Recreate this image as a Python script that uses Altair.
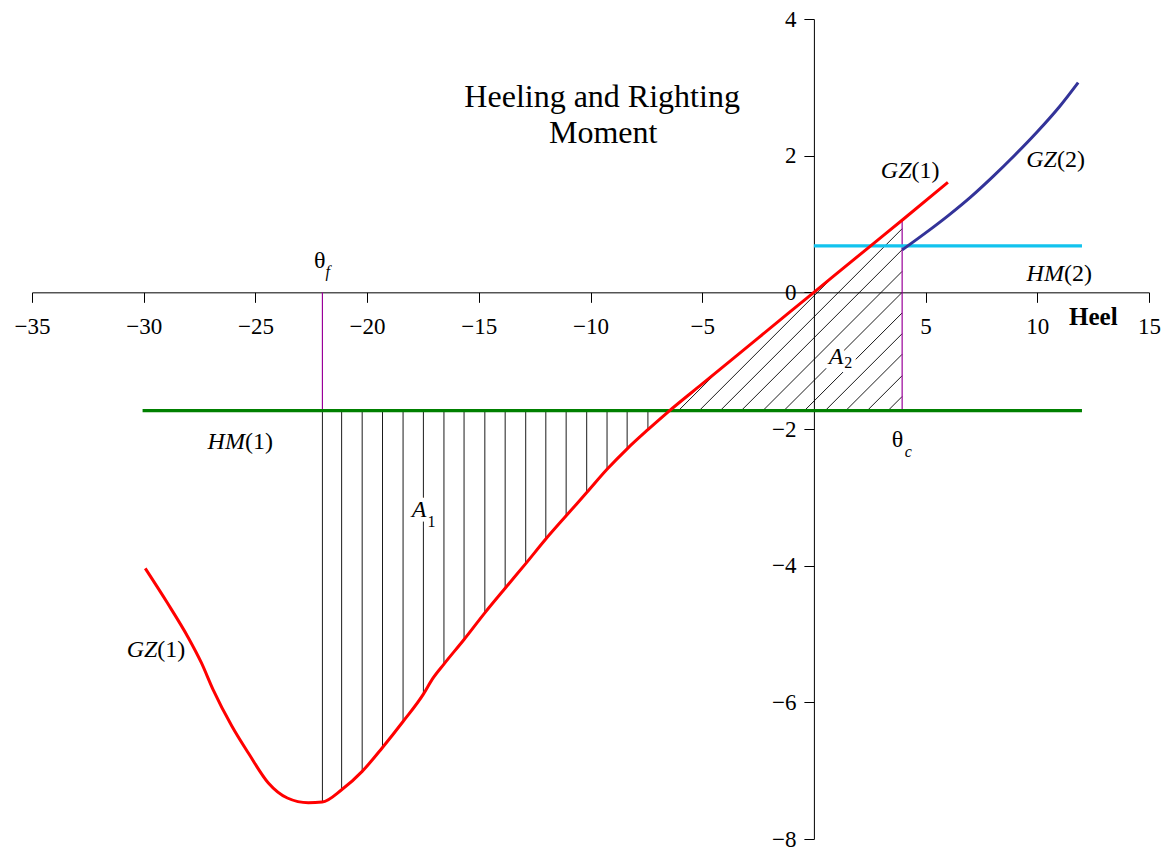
import altair as alt
import pandas as pd

# ---------------- data ----------------
gz1_heel = [-29.93, -28.95, -28.01, -27.42, -26.90, -26.05, -25.28, -24.42, -23.57, -22.63,
            -22.01, -21.14, -20.22, -19.31, -18.39, -17.48, -17.08, -16.56, -15.66, -14.73,
            -13.82, -12.90, -12.00, -11.09, -10.17, -9.26, -8.36, -7.43, -6.51, -5.00,
            -2.50, 0.00, 2.50, 4.00, 6.00]
gz1_moment = [-4.04, -4.54, -5.05, -5.42, -5.81, -6.35, -6.76, -7.18, -7.40, -7.47,
              -7.46, -7.28, -7.01, -6.66, -6.28, -5.88, -5.66, -5.44, -5.08, -4.69,
              -4.33, -3.97, -3.61, -3.27, -2.93, -2.59, -2.29, -2.01, -1.745, -1.34,
              -0.67, 0.00, 0.67, 1.07, 1.61]

gz2_heel = [3.95, 5.0, 6.0, 7.0, 8.0, 9.0, 10.0, 11.0, 11.83]
gz2_moment = [0.62, 0.87, 1.12, 1.39, 1.69, 2.01, 2.35, 2.72, 3.07]

hm1_level = -1.73
hm1_span = [-30.05, 12.0]
hm2_level = 0.68
hm2_span = [0.0, 12.0]

theta_f = -22.0
theta_c = 3.95
gz1_at_theta_c = 1.06

# vertical hatch of area A1 (heel, bottom on GZ(1))
a1_hatch_heel = [-22.0, -21.14, -20.22, -19.31, -18.39, -17.48, -16.56, -15.66, -14.73,
                 -13.82, -12.90, -12.00, -11.09, -10.17, -9.26, -8.36, -7.43]
a1_hatch_bottom = [-7.46, -7.28, -7.01, -6.66, -6.28, -5.88, -5.44, -5.08, -4.69,
                   -4.33, -3.97, -3.61, -3.27, -2.93, -2.59, -2.29, -2.01]

# diagonal hatch of area A2: start heels on HM(1)
a2_hatch_start = [-6.06, -5.13, -4.19, -3.25, -2.28, -1.34, -0.42, 0.51, 1.43, 2.39, 3.32]

x_ticks = [-35, -30, -25, -20, -15, -10, -5, 5, 10, 15]
y_ticks = [-8, -6, -4, -2, 0, 2, 4]
x_domain = [-35, 15]
y_domain = [-8, 4]

# ---------------- layout ----------------
W, H = 1117, 820
FONT = "Liberation Serif"

xs = alt.Scale(domain=x_domain, nice=False, zero=False)
ys = alt.Scale(domain=y_domain, nice=False, zero=False)

x_axis = alt.Axis(values=x_ticks, offset=-H * (0 - y_domain[0]) / (y_domain[1] - y_domain[0]),
                  title=None, grid=False, tickSize=10, labelPadding=13,
                  labelFont=FONT, labelFontSize=23, labelColor="black",
                  domainColor="black", tickColor="black", domainWidth=1, tickWidth=1,
                  labelFlush=False, labelOverlap=False)
y_axis = alt.Axis(values=y_ticks, offset=-W * (0 - x_domain[0]) / (x_domain[1] - x_domain[0]),
                  title=None, grid=False, tickSize=10, labelPadding=8,
                  labelFont=FONT, labelFontSize=23, labelColor="black",
                  domainColor="black", tickColor="black", domainWidth=1, tickWidth=1,
                  labelFlush=False, labelOverlap=False)


def X(f):
    return alt.X(f"{f}:Q", scale=xs, axis=x_axis)


def Y(f):
    return alt.Y(f"{f}:Q", scale=ys, axis=y_axis)


# ---------------- tables ----------------
gz1 = pd.DataFrame({"x": gz1_heel, "y": gz1_moment})
gz2 = pd.DataFrame({"x": gz2_heel, "y": gz2_moment})
hm1 = pd.DataFrame({"x": [hm1_span[0]], "x2": [hm1_span[1]], "y": [hm1_level]})
hm2 = pd.DataFrame({"x": [hm2_span[0]], "x2": [hm2_span[1]], "y": [hm2_level]})
purple = pd.DataFrame({"x": [theta_f, theta_c], "y": [0.0, hm1_level],
                       "y2": [hm1_level, gz1_at_theta_c]})
a1 = pd.DataFrame({"x": a1_hatch_heel, "y": [hm1_level] * len(a1_hatch_heel),
                   "y2": a1_hatch_bottom})

# 45-degree (screen) hatch lines, clipped to GZ(1) and theta_c
slope = (W / (x_domain[1] - x_domain[0])) / (H / (y_domain[1] - y_domain[0]))
pts = list(zip(gz1_heel, gz1_moment))


def hit_gz1(x0, y0):
    for (xa, ya), (xb, yb) in zip(pts, pts[1:]):
        if xb < x0:
            continue
        fa = y0 + slope * (xa - x0) - ya
        fb = y0 + slope * (xb - x0) - yb
        if fa * fb <= 0 and fa != fb:
            xi = xa + fa / (fa - fb) * (xb - xa)
            if xi >= x0:
                return xi
    return 1e9


a2_rows = []
for x0 in a2_hatch_start:
    xe = min(hit_gz1(x0, hm1_level), theta_c)
    a2_rows.append({"x": x0, "y": hm1_level, "x2": xe, "y2": hm1_level + slope * (xe - x0)})
a2 = pd.DataFrame(a2_rows)

# ---------------- layers ----------------
a1_layer = alt.Chart(a1).mark_rule(color="black", strokeWidth=0.9).encode(
    x=X("x"), y=Y("y"), y2="y2")
a2_layer = alt.Chart(a2).mark_rule(color="black", strokeWidth=0.9).encode(
    x=X("x"), y=Y("y"), x2="x2", y2="y2")
purple_layer = alt.Chart(purple).mark_rule(color="#990099", strokeWidth=1.2).encode(
    x=X("x"), y=Y("y"), y2="y2")
hm1_layer = alt.Chart(hm1).mark_rule(color="#008000", strokeWidth=3.2).encode(
    x=X("x"), x2="x2", y=Y("y"))
hm2_layer = alt.Chart(hm2).mark_rule(color="#12c3ee", strokeWidth=3.2).encode(
    x=X("x"), x2="x2", y=Y("y"))
gz1_layer = alt.Chart(gz1).mark_line(color="#ff0000", strokeWidth=3, interpolate="monotone").encode(
    x=X("x"), y=Y("y"))
gz2_layer = alt.Chart(gz2).mark_line(color="#333399", strokeWidth=3, interpolate="monotone").encode(
    x=X("x"), y=Y("y"))


def text_layer(df, **kw):
    base = dict(font=FONT, baseline="alphabetic", color="black")
    base.update(kw)
    return alt.Chart(df).mark_text(**base).encode(x=X("x"), y=Y("y"), text="t:N")


italic_names = pd.DataFrame({"x": [4.37, 10.88, 11.19, -25.47, -29.39],
                             "y": [1.67, 1.83, 0.166, -2.29, -5.34],
                             "t": ["GZ", "GZ", "HM", "HM", "GZ"]})
roman_args = pd.DataFrame({"x": [4.37, 10.88, 11.19, -25.47, -29.39],
                           "y": [1.67, 1.83, 0.166, -2.29, -5.34],
                           "t": ["(1)", "(2)", "(2)", "(1)", "(1)"]})
area_a = pd.DataFrame({"x": [-17.35, 1.32], "y": [-3.29, -1.05], "t": ["A", "A"]})
area_sub = pd.DataFrame({"x": [-17.30, 1.36], "y": [-3.43, -1.11], "t": ["1", "2"]})
theta_main = pd.DataFrame({"x": [-21.86, 4.0], "y": [0.356, -2.26], "t": ["θ", "θ"]})
theta_sub = pd.DataFrame({"x": [-21.86, 4.07], "y": [0.22, -2.41], "t": ["f", "c"]})
heel_lbl = pd.DataFrame({"x": [12.51], "y": [-0.478], "t": ["Heel"]})
title_lbl = pd.DataFrame({"x": [-9.48, -9.43], "y": [2.717, 2.19],
                          "t": ["Heeling and Righting", "Moment"]})

halo = dict(color="white", stroke="white", strokeWidth=9, strokeJoin="round")

layers = [
    a1_layer, a2_layer, purple_layer, hm1_layer, hm2_layer, gz1_layer, gz2_layer,
    text_layer(area_a, align="right", fontSize=24, fontStyle="italic", **halo),
    text_layer(area_sub, align="left", fontSize=16, **halo),
    text_layer(area_a, align="right", fontSize=24, fontStyle="italic"),
    text_layer(area_sub, align="left", fontSize=16),
    text_layer(italic_names, align="right", fontSize=24, fontStyle="italic"),
    text_layer(roman_args, align="left", fontSize=24),
    text_layer(theta_main, align="right", fontSize=24),
    text_layer(theta_sub, align="left", fontSize=16, fontStyle="italic"),
    text_layer(heel_lbl, align="center", fontSize=25, fontWeight="bold"),
    text_layer(title_lbl, align="center", fontSize=32),
]

chart = alt.layer(*layers).properties(
    width=W, height=H,
    padding={"left": 24, "top": 11, "right": 13, "bottom": 14},
    autosize=alt.AutoSizeParams(type="none"),
).configure_view(strokeWidth=0)

chart.save("out.html", embed_options={"renderer": "svg", "actions": False})
